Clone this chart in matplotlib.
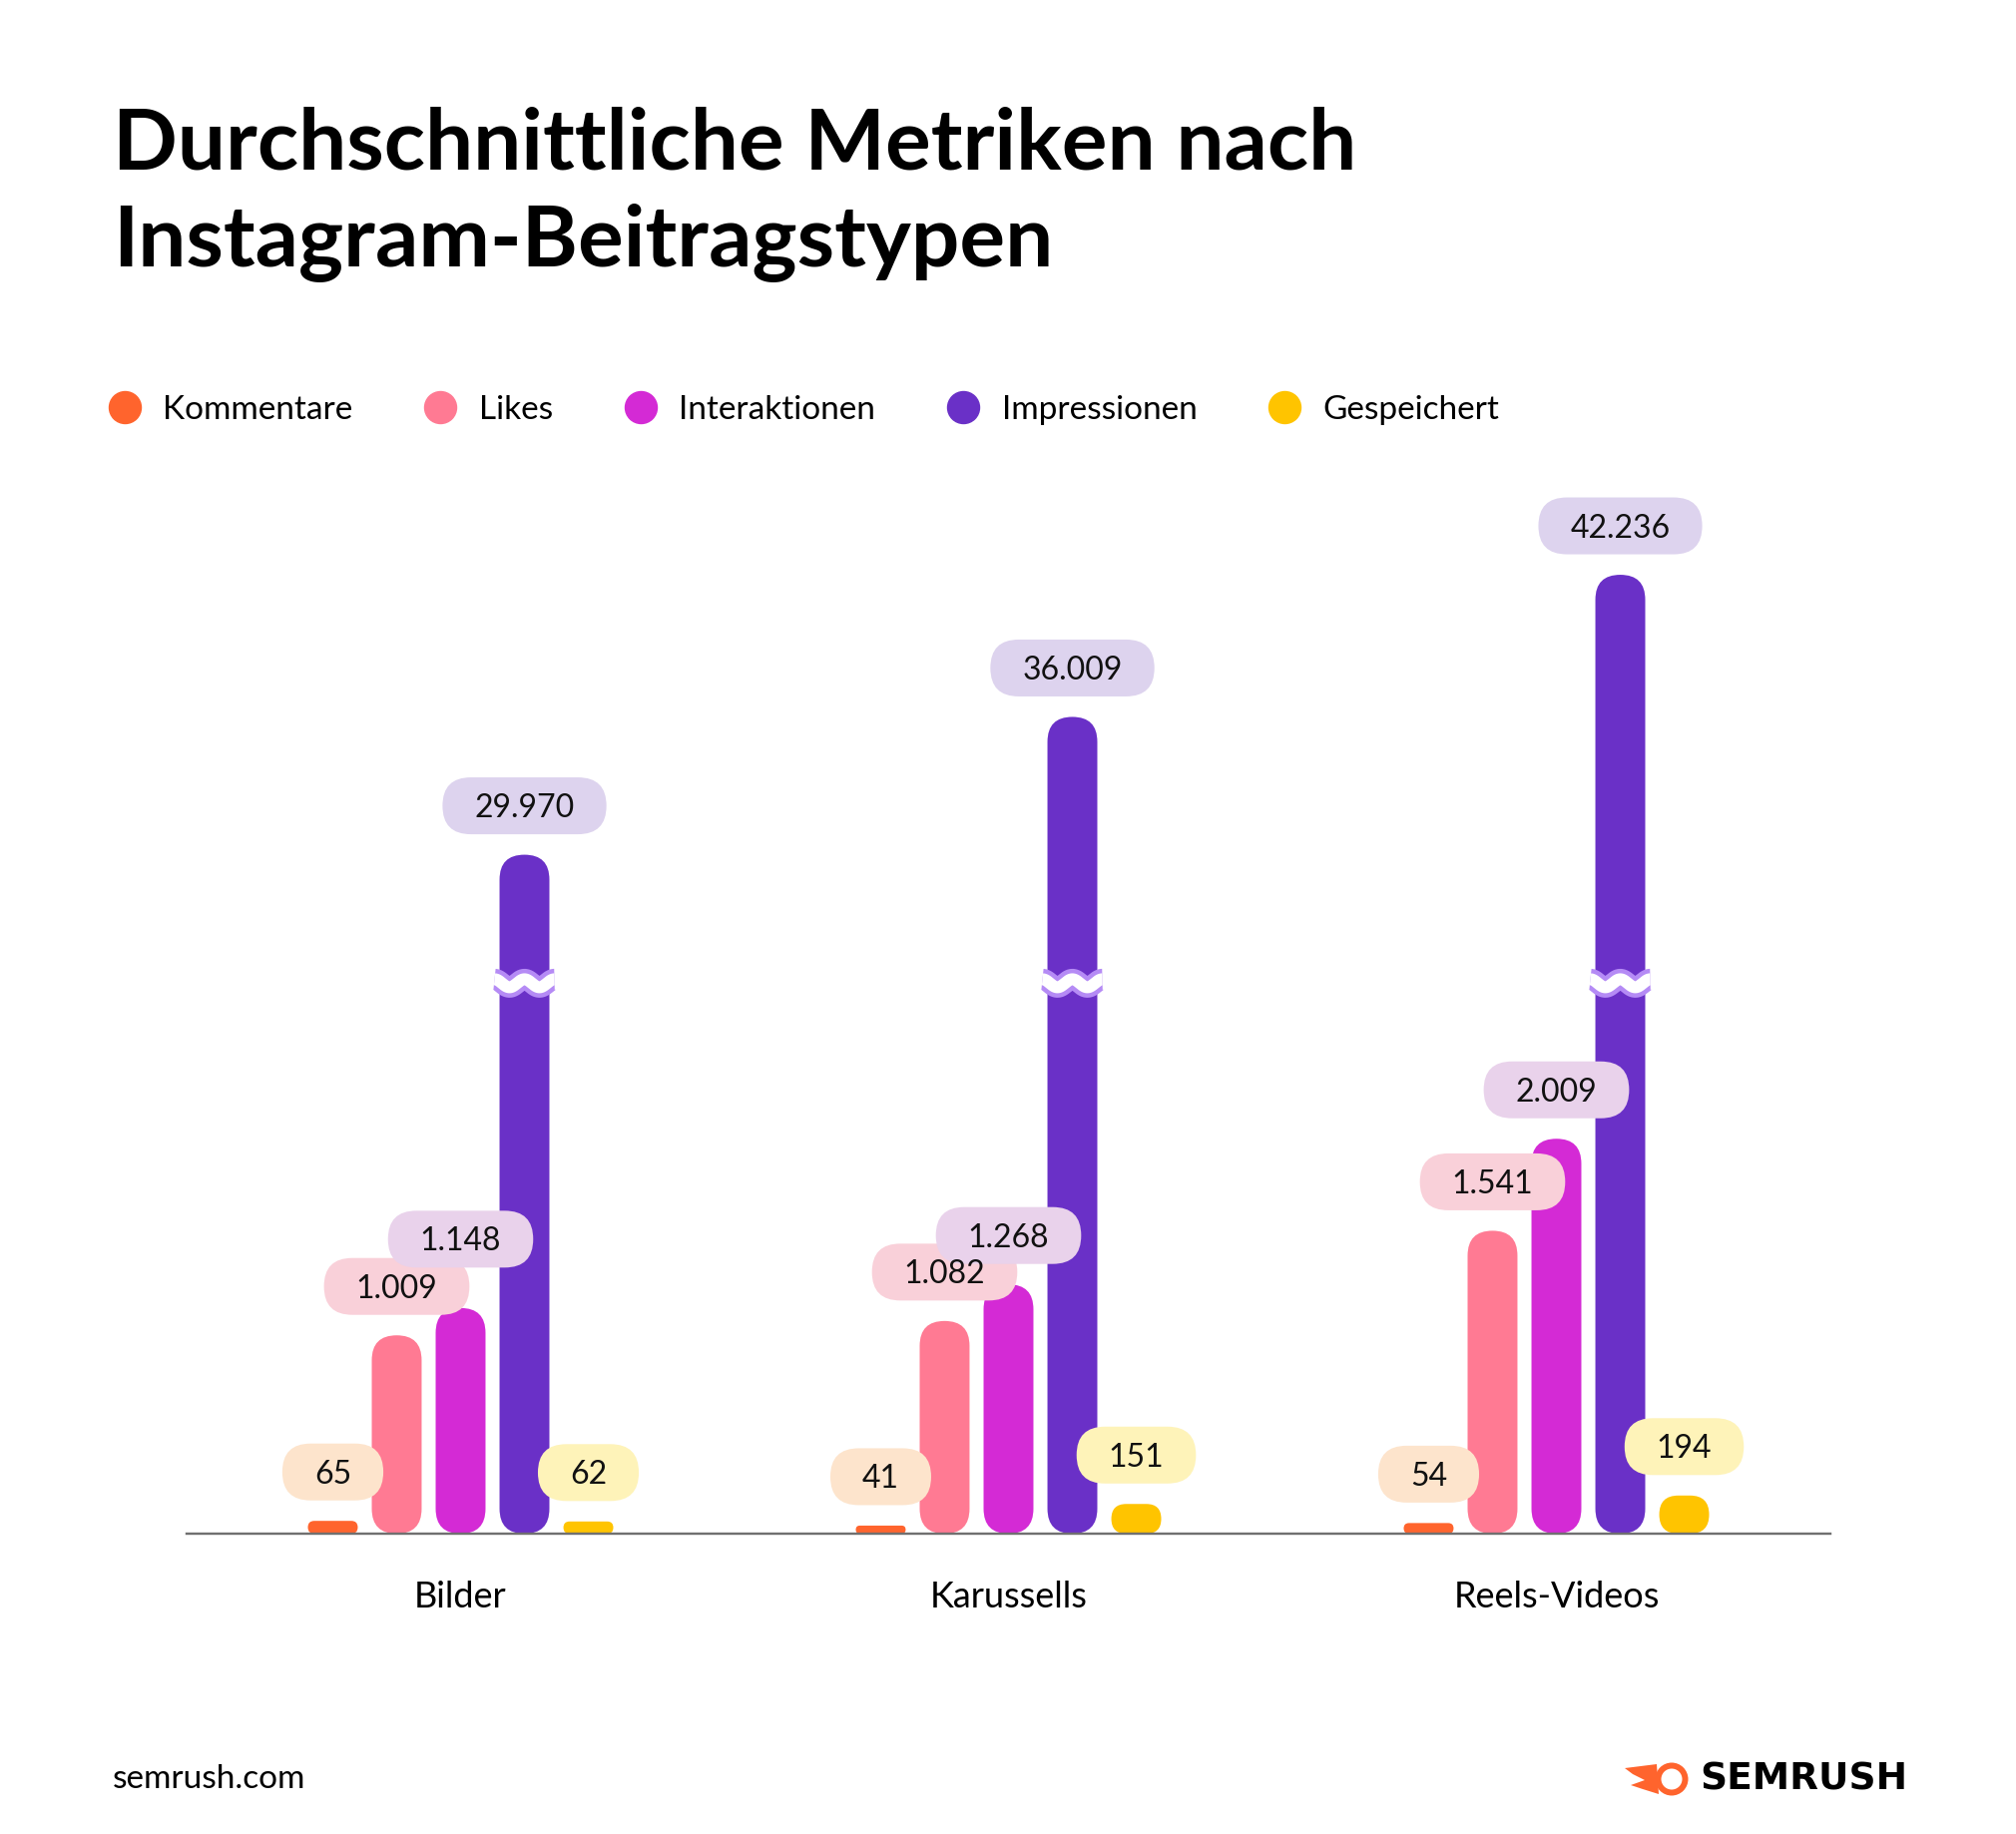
import numpy as np
import matplotlib
matplotlib.use("Agg")
import matplotlib.pyplot as plt
from matplotlib.patches import FancyBboxPatch, Circle, Polygon
from matplotlib.lines import Line2D
from matplotlib.transforms import IdentityTransform

categories = ["Bilder", "Karussells", "Reels-Videos"]
series = ["Kommentare", "Likes", "Interaktionen", "Impressionen", "Gespeichert"]
kommentare = [65, 41, 54]
likes = [1009, 1082, 1541]
interaktionen = [1148, 1268, 2009]
impressionen = [29970, 36009, 42236]
gespeichert = [62, 151, 194]

bar_colors = ["#ff642d", "#ff7a93", "#d42ad5", "#6a30c7", "#ffc400"]
pill_colors = ["#fde4cc", "#f9d0d9", "#e9d2eb", "#ddd3ee", "#fef3b9"]

W, H, DPI = 2020, 1838, 100
PT = 72 / DPI  # points per pixel

plt.rcParams["font.family"] = ["Lato", "DejaVu Sans"]

# broken y axis: linear up to BREAK_LO, then jumps to BREAK_HI with a compressed slope
BREAK_LO, BREAK_HI, UPPER_SLOPE = 2800, 24346, 0.1161
xp = np.array([-1e9, 0, BREAK_LO, BREAK_HI, 1e9])
fp = np.array([-1e9, 0, BREAK_LO, BREAK_LO + 1, BREAK_LO + 1 + (1e9 - BREAK_HI) * UPPER_SLOPE])


def fwd(v):
    return np.interp(v, xp, fp)


def inv(v):
    return np.interp(v, fp, xp)


PX_PER_UNIT = 0.197
YMAX = 46000

fig = plt.figure(figsize=(W / DPI, H / DPI), dpi=DPI)
fig.patch.set_facecolor("white")
ax_h = float(fwd(YMAX)) * PX_PER_UNIT
ax = fig.add_axes([187 / W, 301 / H, 1647 / W, ax_h / H])
ax.set_yscale("function", functions=(fwd, inv))
ax.set_xlim(-0.5, 2.5)
ax.set_ylim(0, YMAX)

x = np.arange(len(categories))
values = [kommentare, likes, interaktionen, impressionen, gespeichert]
step, bw = 0.1166, 0.091
bars = []
for i, (vals, c) in enumerate(zip(values, bar_colors)):
    bars.append(ax.bar(x + (i - 2) * step, vals, width=bw, color=c))

for s in ["top", "left", "right"]:
    ax.spines[s].set_visible(False)
ax.spines["bottom"].set_color("#707070")
ax.spines["bottom"].set_linewidth(2.4 * PT)
ax.set_yticks([])
ax.yaxis.set_minor_locator(matplotlib.ticker.NullLocator())
ax.set_xticks(x, categories, fontsize=26)
ax.tick_params(axis="x", length=0, pad=33.5, colors="black")
ax.patch.set_visible(False)

fig.canvas.draw()
renderer = fig.canvas.get_renderer()
ident = IdentityTransform()

# rounded bars, break marks and value pills, drawn in pixel space from the bar extents
label_lift = {(2, 0): 20}
for i, (cont, vals) in enumerate(zip(bars, values)):
    for j, (rect, v) in enumerate(zip(cont, vals)):
        bb = rect.get_window_extent(renderer)
        rect.set_visible(False)
        r = min(bb.width, bb.height) / 2
        ax.add_patch(FancyBboxPatch((bb.x0, bb.y0), bb.width, bb.height,
                                    boxstyle=f"round,pad=0,rounding_size={r}",
                                    fc=bar_colors[i], ec="none", transform=ident,
                                    zorder=2, clip_on=False))
        cx = bb.x0 + bb.width / 2
        if v > BREAK_HI:
            yb = ax.transData.transform((0, BREAK_LO))[1]
            xs = np.linspace(cx - 30, cx + 30, 200)
            ys = yb + 4 * np.cos(2 * np.pi * (xs - xs[0]) / 30)
            ax.add_line(Line2D(xs, ys, transform=ident, color="#b58bf5",
                               lw=21 * PT, solid_capstyle="butt", zorder=3))
            ax.add_line(Line2D(xs, ys, transform=ident, color="white",
                               lw=12 * PT, solid_capstyle="butt", zorder=3.1))
        pc = bb.y1 + 49 + label_lift.get((i, j), 0)
        label = f"{v:,}".replace(",", ".")
        t = ax.text(cx, pc - 11.5, label, transform=ident, ha="center",
                    va="baseline", fontsize=23, color="#111111", zorder=5,
                    clip_on=False)
        tw = t.get_window_extent(renderer).width
        pw = tw + 64
        ax.add_patch(FancyBboxPatch((cx - pw / 2, pc - 28.5), pw, 57,
                                    boxstyle="round,pad=0,rounding_size=28.5",
                                    fc=pill_colors[i], ec="none", transform=ident,
                                    zorder=4, clip_on=False))

# title
fig.text(113 / W, 1 - 170 / H, "Durchschnittliche Metriken nach",
         fontsize=61.5, fontweight="bold", va="baseline", ha="left")
fig.text(113 / W, 1 - 266 / H, "Instagram-Beitragstypen",
         fontsize=61.5, fontweight="bold", va="baseline", ha="left")

# legend
handles = [Line2D([], [], marker="o", ls="", color=c, markersize=32 * PT)
           for c in bar_colors]
fig.legend(handles, series, loc="center left",
           bbox_to_anchor=(108 / W, 1 - 411 / H), ncol=5, frameon=False,
           fontsize=24, handlelength=1.0, handletextpad=0.66,
           columnspacing=2.13, borderpad=0, borderaxespad=0)

# footer
fig.text(113 / W, 1 - 1783 / H, "semrush.com", fontsize=24, va="center", ha="left")
fig.text(1703 / W, 1 - 1783 / H, "SEMRUSH", fontsize=27, fontweight="bold",
         family="DejaVu Sans", va="center", ha="left")
fig.patches.append(Polygon([(1628, H - 1772), (1660, H - 1768), (1662, H - 1798),
                            (1646, H - 1793), (1634, H - 1789), (1648, H - 1784),
                            (1636, H - 1778)],
                           closed=True, fc="#ff642d", ec="none",
                           transform=ident, figure=fig))
fig.patches.append(Circle((1675, H - 1783), 16.5, fc="#ff642d", ec="none",
                          transform=ident, figure=fig))
fig.patches.append(Circle((1675, H - 1783), 10.5, fc="white", ec="none",
                          transform=ident, figure=fig))

fig.savefig("out.png", dpi=DPI, facecolor="white")
